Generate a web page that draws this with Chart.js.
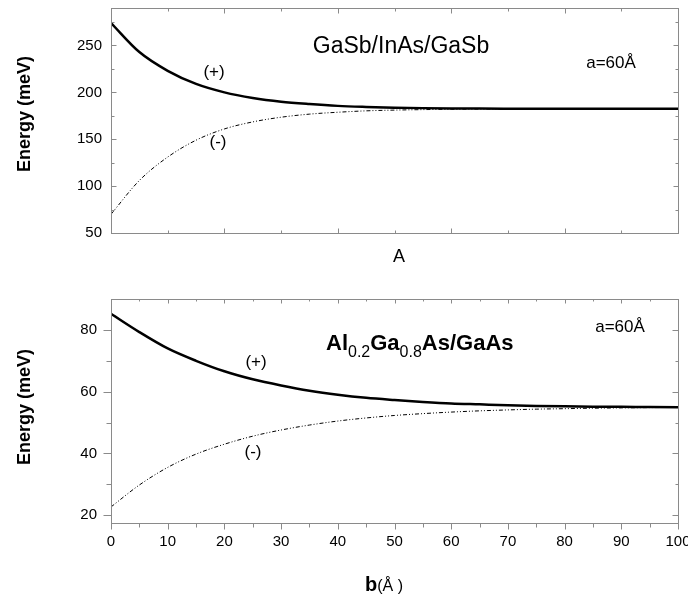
<!DOCTYPE html>
<html lang="en">
<head>
    <meta charset="UTF-8">
    <title>Energy vs b</title>
    <script src="https://cdn.jsdelivr.net/npm/chart.js"></script>
    <style>
        body {
            margin: 0;
            padding: 0;
            background: #ffffff;
        }
        .panel {
            position: absolute;
            left: 0;
            width: 688px;
        }
        #topPanel { top: 0; height: 290px; }
        #bottomPanel { top: 290px; height: 310px; }
    </style>
</head>
<body>

<div class="panel" id="topPanel"><canvas id="topChart" width="688" height="290"></canvas></div>
<div class="panel" id="bottomPanel"><canvas id="bottomChart" width="688" height="310"></canvas></div>

<script>
    // barrier width b (Å)
    const bValues = [0, 5, 10, 15, 20, 25, 30, 35, 40, 45, 50, 55, 60, 65, 70, 75, 80, 85, 90, 95, 100];

    // GaSb/InAs/GaSb, a = 60 Å
    const topPlus  = [274, 243, 223, 209, 200, 194, 190, 187.5, 185.6, 184.5, 183.7, 183.2, 182.9, 182.7, 182.6, 182.5, 182.5, 182.5, 182.5, 182.5, 182.5];
    const topMinus = [70, 106, 131, 149, 161, 168.5, 173.5, 176.8, 178.8, 180.3, 181.1, 181.6, 182.0, 182.2, 182.3, 182.4, 182.4, 182.5, 182.5, 182.5, 182.5];

    // Al0.2Ga0.8As/GaAs, a = 60 Å
    const bottomPlus  = [85.2, 79.3, 74, 70, 66.6, 64, 62, 60.3, 59, 58, 57.3, 56.7, 56.2, 55.9, 55.6, 55.4, 55.25, 55.15, 55.1, 55.05, 55.0];
    const bottomMinus = [22.7, 29.8, 35.5, 39.8, 43, 45.6, 47.6, 49.2, 50.5, 51.5, 52.3, 52.9, 53.4, 53.8, 54.1, 54.35, 54.5, 54.65, 54.75, 54.85, 54.9];

    const topYTicks = [50, 100, 150, 200, 250];
    const bottomYTicks = [20, 40, 60, 80];
    const bottomXTicks = [0, 10, 20, 30, 40, 50, 60, 70, 80, 90, 100];

    const FONT = '"Liberation Sans", Arial, sans-serif';
    const AXIS_COLOR = '#8a8a8a';

    function pts(ys) {
        return bValues.map((b, i) => ({ x: b, y: ys[i] }));
    }

    function datasets(plus, minus) {
        return [
            { label: '(+)', data: pts(plus), borderColor: '#000', borderWidth: 2.5, cubicInterpolationMode: 'monotone' },
            { label: '(-)', data: pts(minus), borderColor: '#000', borderWidth: 1, borderDash: [4, 2, 1, 2, 1, 2], cubicInterpolationMode: 'monotone' }
        ];
    }

    function text(ctx, str, x, y, font, align) {
        ctx.font = font;
        ctx.textAlign = align || 'center';
        ctx.textBaseline = 'middle';
        ctx.fillText(str, x, y);
    }

    // ticks: list of [value, length]; dir +1 inward, -1 outward
    function vTicks(ctx, scale, xs, ticks, dir) {
        ticks.forEach(([v, len]) => {
            const p = Math.round(scale.getPixelForValue(v)) + 0.5;
            ctx.beginPath();
            ctx.moveTo(xs, p);
            ctx.lineTo(xs + dir * len, p);
            ctx.stroke();
        });
    }
    function hTicks(ctx, scale, ys, ticks, dir) {
        ticks.forEach(([v, len]) => {
            const p = Math.round(scale.getPixelForValue(v)) + 0.5;
            ctx.beginPath();
            ctx.moveTo(p, ys);
            ctx.lineTo(p, ys + dir * len);
            ctx.stroke();
        });
    }

    const framePlugin = {
        id: 'frame',
        afterDraw(chart, args, opts) {
            const ctx = chart.ctx;
            const a = chart.chartArea;
            const xs = chart.scales.x, ys = chart.scales.y;
            const L = Math.round(a.left) + 0.5, R = Math.round(a.right) + 0.5;
            const T = Math.round(a.top) + 0.5, B = Math.round(a.bottom) + 0.5;
            ctx.save();
            ctx.strokeStyle = AXIS_COLOR;
            ctx.lineWidth = 1;
            ctx.strokeRect(L, T, R - L, B - T);

            vTicks(ctx, ys, L, opts.leftTicks, opts.leftDir);
            vTicks(ctx, ys, R, opts.rightTicks, -1);
            hTicks(ctx, xs, B, opts.bottomTicks, opts.bottomDir);
            hTicks(ctx, xs, T, opts.topTicks, 1);

            ctx.fillStyle = '#000';
            opts.yLabels.forEach(v => text(ctx, String(v), opts.yLabelRight, ys.getPixelForValue(v), '15px ' + FONT, 'right'));
            (opts.xLabels || []).forEach(v => text(ctx, String(v), xs.getPixelForValue(v), opts.xLabelY, '15px ' + FONT));

            // y-axis title
            ctx.save();
            ctx.translate(25, opts.yTitleY);
            ctx.rotate(-Math.PI / 2);
            text(ctx, 'Energy (meV)', 0, 0, 'bold 18px ' + FONT);
            ctx.restore();

            opts.draw(ctx);
            ctx.restore();
        }
    };

    function range(from, to, step) {
        const out = [];
        for (let v = from; v <= to + 1e-9; v += step) out.push(v);
        return out;
    }

    const topChart = new Chart(document.getElementById('topChart'), {
        type: 'line',
        data: { datasets: datasets(topPlus, topMinus) },
        plugins: [framePlugin],
        options: {
            responsive: false,
            animation: false,
            layout: { padding: { left: 111, right: 10, top: 8, bottom: 57 } },
            elements: { point: { radius: 0 } },
            scales: {
                x: { type: 'linear', min: 0, max: 100, display: false },
                y: { type: 'linear', min: 50, max: 290, display: false }
            },
            plugins: {
                legend: { display: false },
                tooltip: { enabled: false },
                frame: {
                    leftTicks: range(50, 275, 25).map(v => [v, v % 50 === 0 ? 5 : 3]),
                    rightTicks: range(50, 275, 25).map(v => [v, v % 50 === 0 ? 5 : 3]),
                    bottomTicks: range(10, 90, 10).map(v => [v, v % 20 === 0 ? 5 : 3]),
                    topTicks: range(10, 90, 10).map(v => [v, v % 20 === 0 ? 5 : 3]),
                    leftDir: 1,
                    bottomDir: -1,
                    yLabels: topYTicks,
                    yLabelRight: 102,
                    yTitleY: 114,
                    draw(ctx) {
                        text(ctx, 'GaSb/InAs/GaSb', 401, 47, '23px ' + FONT);
                        text(ctx, 'a=60Å', 611, 63, '17px ' + FONT);
                        text(ctx, '(+)', 214, 72, '17px ' + FONT);
                        text(ctx, '(-)', 218, 142, '17px ' + FONT);
                        text(ctx, 'A', 399, 257, '18px ' + FONT);
                    }
                }
            }
        }
    });

    const bottomChart = new Chart(document.getElementById('bottomChart'), {
        type: 'line',
        data: { datasets: datasets(bottomPlus, bottomMinus) },
        plugins: [framePlugin],
        options: {
            responsive: false,
            animation: false,
            layout: { padding: { left: 111, right: 10, top: 9, bottom: 77 } },
            elements: { point: { radius: 0 } },
            scales: {
                x: { type: 'linear', min: 0, max: 100, display: false },
                y: { type: 'linear', min: 17.5, max: 90, display: false }
            },
            plugins: {
                legend: { display: false },
                tooltip: { enabled: false },
                frame: {
                    leftTicks: range(20, 80, 10).map(v => [v, v % 20 === 0 ? 8 : 5]),
                    rightTicks: range(20, 80, 10).map(v => [v, v % 20 === 0 ? 6 : 3]),
                    bottomTicks: range(0, 100, 5).map(v => [v, v % 10 === 0 ? 6 : 4]),
                    topTicks: range(5, 95, 5).map(v => [v, v % 10 === 0 ? 4 : 2]),
                    leftDir: -1,
                    bottomDir: 1,
                    yLabels: bottomYTicks,
                    yLabelRight: 97,
                    xLabels: bottomXTicks,
                    xLabelY: 252,
                    yTitleY: 117,
                    draw(ctx) {
                        // Al0.2Ga0.8As/GaAs with subscripts
                        const parts = [
                            ['Al', 'bold 22px ' + FONT, 0],
                            ['0.2', '16px ' + FONT, 7],
                            ['Ga', 'bold 22px ' + FONT, 0],
                            ['0.8', '16px ' + FONT, 7],
                            ['As/GaAs', 'bold 22px ' + FONT, 0]
                        ];
                        let x = 326;
                        ctx.textAlign = 'left';
                        ctx.textBaseline = 'alphabetic';
                        parts.forEach(([s, f, dy]) => {
                            ctx.font = f;
                            ctx.fillText(s, x, 60 + dy);
                            x += ctx.measureText(s).width;
                        });

                        text(ctx, 'a=60Å', 620, 37, '17px ' + FONT);
                        text(ctx, '(+)', 256, 72, '17px ' + FONT);
                        text(ctx, '(-)', 253, 162, '17px ' + FONT);

                        ctx.textAlign = 'left';
                        ctx.textBaseline = 'alphabetic';
                        ctx.font = 'bold 20px ' + FONT;
                        ctx.fillText('b', 365, 301);
                        const bw = ctx.measureText('b').width;
                        ctx.font = '16px ' + FONT;
                        ctx.fillText('(Å )', 365 + bw, 301);
                    }
                }
            }
        }
    });
</script>

</body>
</html>
